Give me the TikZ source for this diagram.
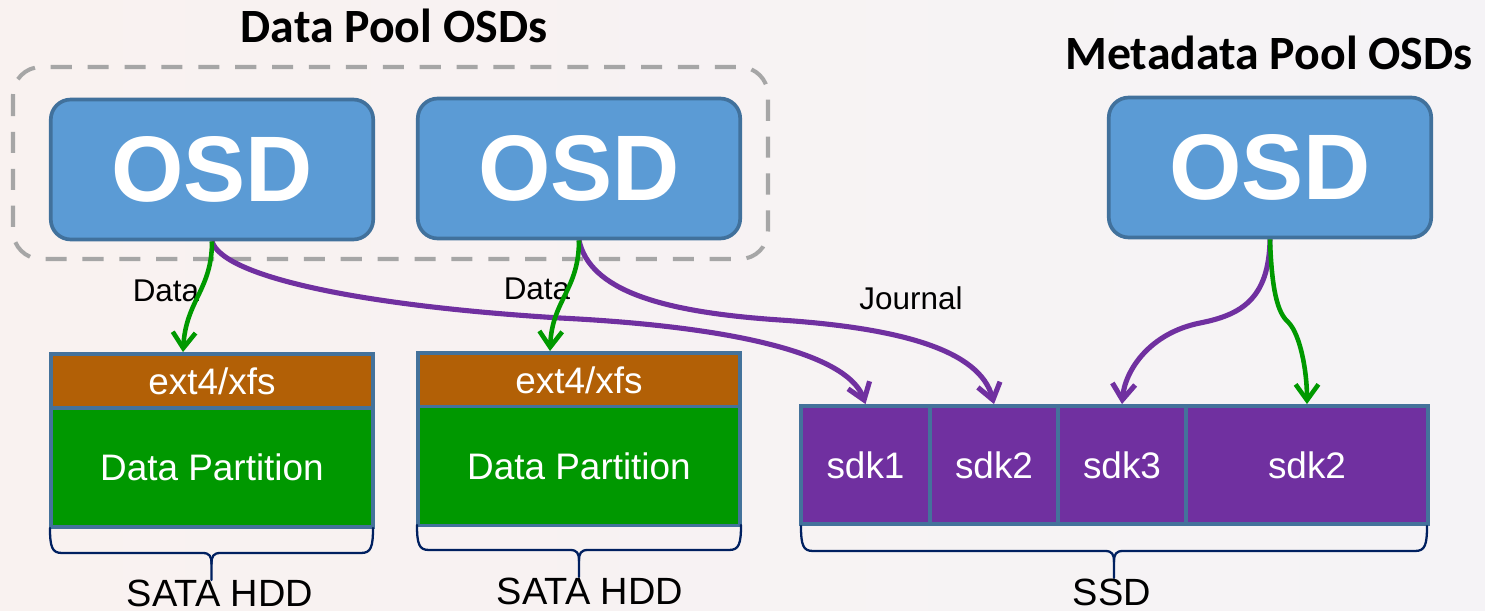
\documentclass[tikz,border=0pt]{standalone}
\usepackage{fontspec}
\setmainfont{Liberation Sans}
\newfontfamily\headfont{Carlito}
\usetikzlibrary{arrows.meta,calc}

\definecolor{bgleft}{RGB}{249,242,240}
\definecolor{bgright}{RGB}{245,243,246}
\definecolor{osdfill}{RGB}{91,155,213}
\definecolor{osdline}{RGB}{65,113,156}
\definecolor{boxline}{RGB}{68,114,155}
\definecolor{fsbrown}{RGB}{178,96,6}
\definecolor{partgreen}{RGB}{0,152,0}
\definecolor{ssdpurple}{RGB}{112,48,160}
\definecolor{linkgreen}{RGB}{0,153,0}
\definecolor{groupgray}{RGB}{166,166,166}
\definecolor{bracenavy}{RGB}{0,32,96}

% horizontal curly brace under a disk: left x, right x, top y (picture units)
\newcommand\DiskBrace[3]{%
  \pgfmathsetmacro\bmid{(#1+#2)/2}%
  \draw[bracestyle] (#1,#3) .. controls (#1,{#3+19}) and ({#1+2},{#3+25}) .. ({#1+12},{#3+25})
    -- ({\bmid-9},{#3+25}) .. controls ({\bmid-2},{#3+25}) and (\bmid,{#3+28}) .. (\bmid,{#3+36})
    -- (\bmid,{#3+52});
  \draw[bracestyle] (#2,#3) .. controls (#2,{#3+19}) and ({#2-2},{#3+25}) .. ({#2-12},{#3+25})
    -- ({\bmid+9},{#3+25}) .. controls ({\bmid+2},{#3+25}) and (\bmid,{#3+28}) .. (\bmid,{#3+36});
}

\tikzset{
  osd/.style={rectangle, rounded corners=0.4cm, fill=osdfill, draw=osdline,
    line width=2.1pt, minimum width=6.45cm, minimum height=2.8cm, inner sep=0pt,
    text=white, font=\fontsize{53}{60}\selectfont\bfseries},
  diskpart/.style={rectangle, draw=boxline, line width=2.2pt, inner sep=0pt,
    text=white, font=\fontsize{21}{24}\selectfont},
  fsbox/.style={diskpart, fill=fsbrown, minimum width=6.45cm, minimum height=1.08cm},
  partbox/.style={diskpart, fill=partgreen, minimum width=6.45cm, minimum height=2.38cm},
  sdkbox/.style={diskpart, fill=ssdpurple, minimum height=2.36cm},
  heading/.style={font=\headfont\bfseries\fontsize{27.2}{32}\selectfont, inner sep=0pt, anchor=base},
  smalllabel/.style={font=\fontsize{17.9}{21}\selectfont, inner sep=0pt, anchor=base},
  disklabel/.style={font=\fontsize{21.6}{25}\selectfont, inner sep=0pt, anchor=base},
  bracestyle/.style={draw=bracenavy, line width=1.3pt, line cap=round, line join=round},
  grouprect/.style={draw=groupgray, line width=2.3pt, dash pattern=on 12pt off 9pt, rounded corners=0.56cm},
  datalink/.style={draw=linkgreen, line width=2.6pt, -{Straight Barb[length=9pt,width=13pt]}},
  journallink/.style={draw=ssdpurple, line width=2.9pt, -{Straight Barb[length=9pt,width=13pt]}}
}

\begin{document}
\begin{tikzpicture}[x=0.02cm, y=-0.02cm]
  % page background
  \shade[left color=bgleft, right color=bgright] (0,0) rectangle (1485,611);
  \useasboundingbox (0,0) rectangle (1485,611);

  % headings
  \node[heading] (hdata) at (394,43) {Data Pool OSDs};
  \node[heading] (hmeta) at (1269,70) {Metadata Pool OSDs};

  % data pool group outline
  \draw[grouprect] (13,67) rectangle (768,259);

  % OSD daemons
  \node[osd] (osd1) at (212,169.5) {OSD};
  \node[osd] (osd2) at (579,168.5) {OSD};
  \node[osd] (osd3) at (1270,167.5) {OSD};

  % SATA HDD 1
  \node[fsbox] (ext1) at (212,381) {ext4/xfs};
  \node[partbox] (part1) at (212,467.5) {Data Partition};
  % SATA HDD 2
  \node[fsbox] (ext2) at (579,380) {ext4/xfs};
  \node[partbox] (part2) at (579,466) {Data Partition};

  % SSD partitions
  \node[sdkbox, minimum width=2.58cm] (sdk1) at (865.5,465) {sdk1};
  \node[sdkbox, minimum width=2.56cm] (sdk2) at (994,465) {sdk2};
  \node[sdkbox, minimum width=2.56cm] (sdk3) at (1122,465) {sdk3};
  \node[sdkbox, minimum width=4.84cm] (sdk4) at (1307,465) {sdk2};

  % braces and device names
  \DiskBrace{50}{373}{528}
  \DiskBrace{417}{741}{525}
  \DiskBrace{801}{1427}{526}
  \node[disklabel] (hdd1) at (220,606) {SATA HDD};
  \node[disklabel] (hdd2) at (590,604) {SATA HDD};
  \node[disklabel] (ssd) at (1112,605) {SSD};

  % link labels
  \node[smalllabel] (ldata1) at (166,302) {Data};
  \node[smalllabel] (ldata2) at (537,300) {Data};
  \node[smalllabel] (ljournal) at (911,310) {Journal};

  % journal links
  \draw[journallink] (osd1.south) .. controls (222,275) and (350,305) .. (560,318)
    .. controls (760,328) and (850,360) .. (sdk1.north);
  \draw[journallink] (osd2.south) .. controls (590,290) and (660,312) .. (780,320)
    .. controls (900,328) and (980,350) .. (sdk2.north);
  \draw[journallink] (osd3.south) .. controls (1269,300) and (1240,315) .. (1200,323)
    .. controls (1150,333) and (1125,370) .. (sdk3.north);

  % data links
  \draw[datalink] (osd1.south) .. controls (212,290) and (186,300) .. ($(ext1.north)+(-29,0)$);
  \draw[datalink] (osd2.south) .. controls (579,290) and (552,300) .. ($(ext2.north)+(-29,0)$);
  \draw[datalink] (osd3.south) .. controls (1272,300) and (1280,315) .. (1289,323)
    .. controls (1300,335) and (1307,370) .. (sdk4.north);
\end{tikzpicture}
\end{document}
